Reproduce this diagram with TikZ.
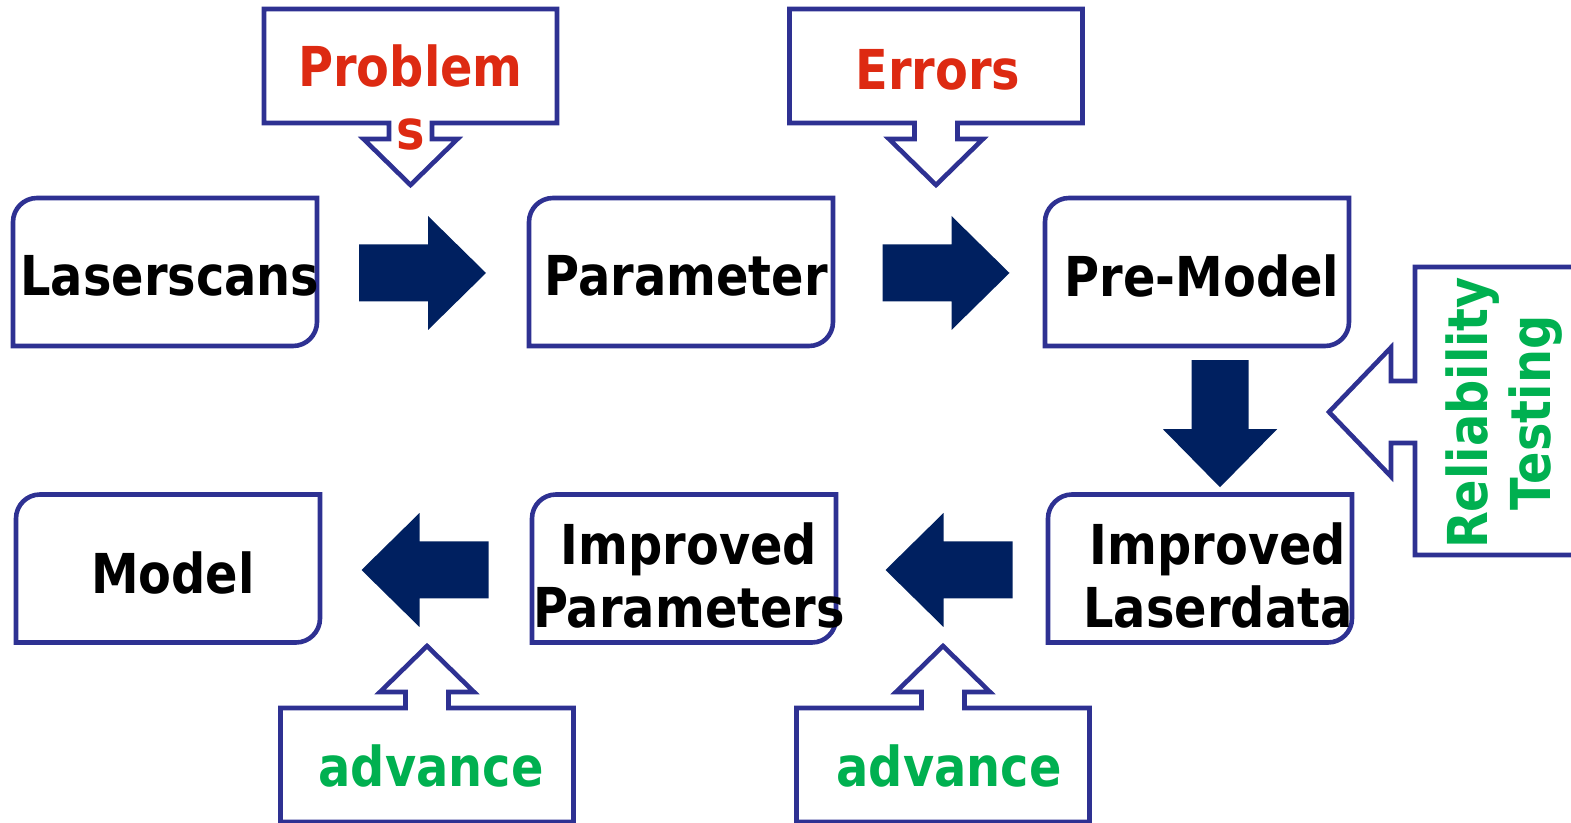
\documentclass[tikz,border=0pt]{standalone}
\usepackage{fontspec}
\setmainfont{DejaVu Sans}[FakeStretch=0.87]
\usetikzlibrary{calc,backgrounds}

\definecolor{frameblue}{RGB}{46,49,146}
\definecolor{arrownavy}{RGB}{0,32,96}
\definecolor{probred}{RGB}{221,42,18}
\definecolor{advgreen}{RGB}{0,176,80}

\tikzset{
  flow/.style={inner sep=0pt,outer sep=0pt,align=center},
  frame/.style={draw=frameblue,line width=2.3pt,line join=miter},
  probtext/.style={text=probred,align=center,inner sep=0pt},
  advtext/.style={text=advgreen,align=center,inner sep=0pt},
  blockarrow/.pic={
    \fill[arrownavy] (-63.5,-28.5) -- (5.5,-28.5) -- (5.5,-57) -- (63.5,0)
      -- (5.5,57) -- (5.5,28.5) -- (-63.5,28.5) -- cycle;
  },
  downcall/.pic={
    \draw[frame] (0,0) -- (47,-46) -- (21.5,-46) -- (21.5,-62) -- (146.5,-62)
      -- (146.5,-176) -- (-146.5,-176) -- (-146.5,-62) -- (-21.5,-62)
      -- (-21.5,-46) -- (-47,-46) -- cycle;
  }
}

\begin{document}
\begin{tikzpicture}[x=0.5pt,y=-0.5pt,font=\fontsize{27.5}{31.5}\selectfont\bfseries]
\useasboundingbox (0,0) rectangle (1571,823);

% process boxes (text sits a little off the box centre)
\node[flow] (laser)    at (170,276)  {Laserscans};
\node[flow] (param)    at (686,276)  {Parameter};
\node[flow] (premodel) at (1202,276) {Pre-Model};
\node[flow] (model)    at (173,572.5) {Model};
\node[flow] (impparam) at (689,575.5) {Improved\\Parameters};
\node[flow] (impdata)  at (1218,575.5) {Improved\\Laserdata};

\begin{scope}[on background layer]
\foreach \n/\dx/\dy in {laser/5/4,param/5/4,premodel/5/4,model/5/4,impparam/5/7,impdata/18/7}
  \draw[frame] ([shift={(-152-\dx,-50-\dy)}]\n.center) arc[start angle=180,end angle=90,radius=12pt]
    -- ([shift={(152-\dx,-74-\dy)}]\n.center) -- ([shift={(152-\dx,50-\dy)}]\n.center)
    arc[start angle=0,end angle=-90,radius=12pt] -- ([shift={(-152-\dx,74-\dy)}]\n.center) -- cycle;
\end{scope}

% block arrows
\pic at ($(laser.center)!0.5!(param.center)+(-5.5,-3)$) {blockarrow};
\pic at ($(param.center)!0.5!(premodel.center)+(2,-3)$) {blockarrow};
\pic[rotate=-90] at ($(premodel.center)!0.5!(impdata.center)+(10,-2)$) {blockarrow};
\pic[rotate=180] at ($(impdata.center)!0.5!(impparam.center)+(-4.5,-5.5)$) {blockarrow};
\pic[rotate=180] at ($(impparam.center)!0.5!(model.center)+(-6,-4)$) {blockarrow};

% callouts
\pic at (410.5,185) {downcall};
\pic at (936,185) {downcall};
\pic[rotate=180] at (427,646) {downcall};
\pic[rotate=180] at (943,646) {downcall};
\draw[frame] (1329,412) -- (1391,347.5) -- (1391,381) -- (1415,381) -- (1415,267)
  -- (1590,267) -- (1590,555) -- (1415,555) -- (1415,443) -- (1391,443)
  -- (1391,476.5) -- cycle;

\node[probtext] (probs) at (410.5,97.6) {Problem\\s};
\node[probtext,anchor=base] (errs) at (938,90) {Errors};
\node[advtext,anchor=base] (adv1) at (431,787) {advance};
\node[advtext,anchor=base] (adv2) at (949,787) {advance};
\node[advtext,rotate=90] (relia) at (1504,413) {Reliability\\Testing};
\end{tikzpicture}
\end{document}
